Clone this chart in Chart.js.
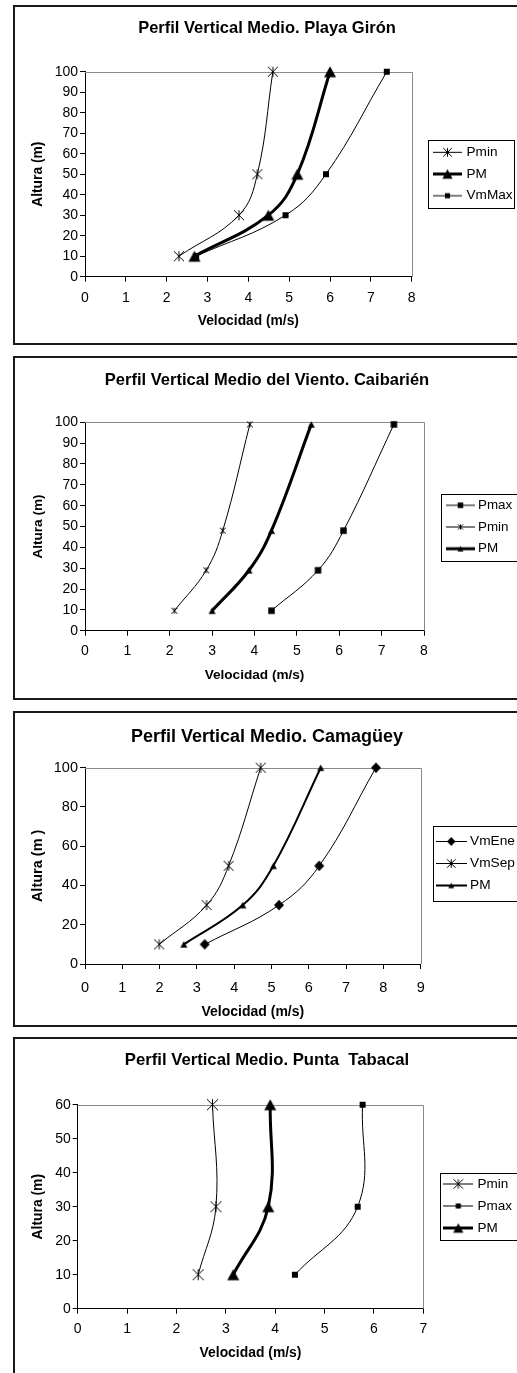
<!DOCTYPE html>
<html lang="es">
<head>
<meta charset="utf-8">
<title>Perfil Vertical Medio</title>
<script src="https://cdn.jsdelivr.net/npm/chart.js@4.4.1/dist/chart.umd.min.js"></script>
<style>
  html, body { margin:0; padding:0; background:#fff; }
  body { width:517px; height:1373px; overflow:hidden; position:relative; }
  .box { position:absolute; left:13px; width:504px; border:2px solid #1a1a1a; background:#fff; }
  .box canvas { display:block; }
</style>
</head>
<body>
<div class="box" style="top:5px;height:336px;"><canvas id="c1" width="504" height="336"></canvas></div>
<div class="box" style="top:356px;height:340px;"><canvas id="c2" width="504" height="340"></canvas></div>
<div class="box" style="top:711px;height:312px;"><canvas id="c3" width="504" height="312"></canvas></div>
<div class="box" style="top:1037px;height:336px;"><canvas id="c4" width="504" height="336"></canvas></div>
<script>
const FONT = "'Liberation Sans', Arial, Helvetica, sans-serif";

// ---------- DATA ----------
const xTitle = 'Velocidad (m/s)';
const yTitle = 'Altura (m)';
const yTitle3 = 'Altura (m )';

// Chart 1 — Playa Girón
const title1 = 'Perfil Vertical Medio. Playa Girón';
const heights1 = [10, 30, 50, 100];
const pmin1 = [2.3, 3.77, 4.22, 4.6];
const pm1 = [2.68, 4.49, 5.2, 6.0];
const vmMax1 = [2.72, 4.91, 5.9, 7.39];
const xTicks1 = [0, 1, 2, 3, 4, 5, 6, 7, 8];
const yTicks1 = [0, 10, 20, 30, 40, 50, 60, 70, 80, 90, 100];

// Chart 2 — Caibarién
const title2 = 'Perfil Vertical Medio del Viento. Caibarién';
const heights2 = [9.6, 29, 48, 99];
const pmax2 = [4.4, 5.5, 6.1, 7.29];
const pmin2 = [2.11, 2.86, 3.25, 3.89];
const pm2 = [3.0, 3.87, 4.4, 5.34];
const xTicks2 = [0, 1, 2, 3, 4, 5, 6, 7, 8];
const yTicks2 = [0, 10, 20, 30, 40, 50, 60, 70, 80, 90, 100];

// Chart 3 — Camagüey
const title3 = 'Perfil Vertical Medio. Camagüey';
const heights3 = [10, 30, 50, 100];
const vmEne3 = [3.21, 5.2, 6.28, 7.8];
const vmSep3 = [1.99, 3.26, 3.85, 4.71];
const pm3 = [2.65, 4.23, 5.05, 6.32];
const xTicks3 = [0, 1, 2, 3, 4, 5, 6, 7, 8, 9];
const yTicks3 = [0, 20, 40, 60, 80, 100];

// Chart 4 — Punta Tabacal
const title4 = 'Perfil Vertical Medio. Punta  Tabacal';
const heights4 = [10, 30, 60];
const pmin4 = [2.44, 2.8, 2.73];
const pmax4 = [4.4, 5.67, 5.77];
const pm4 = [3.15, 3.86, 3.9];
const xTicks4 = [0, 1, 2, 3, 4, 5, 6, 7];
const yTicks4 = [0, 10, 20, 30, 40, 50, 60];

// ---------- MARKERS ----------
function drawMarker(ctx, kind, cx, cy, s) {
  const h = s / 2;
  ctx.fillStyle = '#000'; ctx.strokeStyle = '#000'; ctx.lineWidth = 1;
  if (kind === 'tri') {
    const hh = s * 0.92;
    ctx.beginPath();
    ctx.moveTo(cx, cy - hh / 2);
    ctx.lineTo(cx + h, cy + hh / 2);
    ctx.lineTo(cx - h, cy + hh / 2);
    ctx.closePath(); ctx.fill();
  } else if (kind === 'sq') {
    ctx.fillRect(cx - h, cy - h, s, s);
  } else if (kind === 'dia') {
    const hv = h * 1.07;
    ctx.beginPath();
    ctx.moveTo(cx, cy - hv); ctx.lineTo(cx + h, cy); ctx.lineTo(cx, cy + hv); ctx.lineTo(cx - h, cy);
    ctx.closePath(); ctx.fill();
  } else if (kind === 'ast') {
    ctx.beginPath();
    ctx.moveTo(cx - h, cy - h); ctx.lineTo(cx + h, cy + h);
    ctx.moveTo(cx + h, cy - h); ctx.lineTo(cx - h, cy + h);
    ctx.moveTo(cx, cy - h); ctx.lineTo(cx, cy + h);
    ctx.stroke();
  }
}
function markerCanvas(kind, s) {
  const n = Math.ceil(s) + 2;
  const c = document.createElement('canvas'); c.width = n; c.height = n;
  drawMarker(c.getContext('2d'), kind, n / 2, n / 2, s);
  return c;
}
function legendCanvas(kind, s, lw, w) {
  const hgt = Math.ceil(Math.max(s, lw)) + 4;
  const c = document.createElement('canvas'); c.width = Math.round(w); c.height = hgt;
  const ctx = c.getContext('2d');
  ctx.fillStyle = '#000';
  ctx.fillRect(0, hgt / 2 - lw / 2, c.width, lw);
  drawMarker(ctx, kind, c.width / 2, hgt / 2, s);
  return c;
}

// ---------- BUILDER ----------
function build(id, spec) {
  const g = spec.geo;
  const canvas = document.getElementById(id);
  const W = canvas.width, H = canvas.height;
  const ox = 15, oy = g.boxTop + 2;
  const L = g.plotL - ox, R = g.plotR - ox, T = g.plotT - oy, B = g.plotB - oy;
  const tLH = spec.titleSize * 1.2;
  const tcy = g.titleCY - oy;
  const axLH = spec.axisSize * 1.2;
  const yAx = spec.yAxisSize || spec.axisSize;
  const xtPadBottom = H - (g.xTitleCY - oy) - axLH / 2;
  const ytcx = g.yTitleCX - ox;
  const fs = spec.legendSize;
  const lpad = g.legendSpacing - fs;
  const symLeft = g.symLeft - ox, symW = g.symW, textX = g.textX - ox;
  const bw = 2 * (textX - symLeft - symW / 2 - fs / 2);
  const itemLeft = symLeft + symW / 2 - bw / 2;
  const tickLH = spec.tickSize * 1.2;
  const xTickPad = (g.xTickCY - g.plotB) - 5 - tickLH / 2;
  const state = { p: 0 };

  const datasets = spec.series.map(s => ({
    label: s.label,
    data: s.y.map((h, i) => ({ x: s.x[i], y: h })),
    showLine: true,
    borderColor: '#000', backgroundColor: '#000',
    borderWidth: s.lw,
    pointStyle: markerCanvas(s.marker, s.size),
    pointRadius: s.size / 2 + 1, pointHoverRadius: s.size / 2 + 1,
    tension: 0.4, clip: false, fill: false,
    legendImg: legendCanvas(s.marker, s.size * 0.85, s.lw, symW)
  }));

  const look = {
    id: 'excelLook',
    afterLayout(chart) {
      const lg = chart.legend; if (!lg) return;
      const w = lg.width;
      lg.left = itemLeft - lpad; lg.right = lg.left + w;
      const cy = g.legendCY - oy;
      lg.top = cy - 150; lg.bottom = cy + 150; lg.height = 300;
    },
    beforeDatasetsDraw(chart) {
      const a = chart.chartArea, ctx = chart.ctx;
      ctx.save();
      ctx.strokeStyle = '#8a8a8a'; ctx.lineWidth = 1;
      const t = Math.round(a.top) + 0.5, r = Math.round(a.right) + 0.5;
      ctx.beginPath();
      ctx.moveTo(a.left, t); ctx.lineTo(r, t); ctx.lineTo(r, a.bottom);
      ctx.stroke();
      ctx.restore();
    },
    afterDraw(chart) {
      const ctx = chart.ctx;
      ctx.save();
      ctx.strokeStyle = '#000'; ctx.lineWidth = 1;
      const x0 = Math.round(g.lbL - ox) + 0.5, y0 = Math.round(g.lbT - oy) + 0.5;
      const x1 = Math.round(g.lbR - ox) + 0.5, y1 = Math.round(g.lbB - oy) + 0.5;
      ctx.strokeRect(x0, y0, x1 - x0, y1 - y0);
      ctx.restore();
    }
  };

  const axisCommon = {
    grid: { display: true, drawOnChartArea: false, drawTicks: true, tickLength: 5, color: '#000', lineWidth: 1 },
    border: { display: true, color: '#000', width: 1 }
  };

  const cfg = {
    type: 'scatter',
    data: { datasets },
    options: {
      responsive: false, animation: false, events: [],
      layout: { padding: { left: 0, right: 0, top: 0, bottom: 0 }, autoPadding: false },
      plugins: {
        title: {
          display: true, text: spec.title, color: '#000',
          font: { family: FONT, size: spec.titleSize, weight: 'bold', lineHeight: 1.2 },
          padding: { top: tcy - tLH / 2, bottom: T - tcy - tLH / 2 }
        },
        legend: {
          position: 'right', align: 'center', maxWidth: W - R,
          labels: {
            usePointStyle: true, pointStyleWidth: bw, padding: lpad, color: '#000',
            font: { family: FONT, size: fs },
            generateLabels: chart => chart.data.datasets.map((ds, i) => ({
              text: ds.label, pointStyle: ds.legendImg, fillStyle: '#000', strokeStyle: '#000',
              lineWidth: 0, hidden: false, datasetIndex: i, fontColor: '#000'
            }))
          }
        },
        tooltip: { enabled: false }
      },
      scales: {
        x: Object.assign({}, axisCommon, {
          type: 'linear', position: 'bottom',
          min: spec.xTicks[0], max: spec.xTicks[spec.xTicks.length - 1],
          afterBuildTicks: sc => { sc.ticks = spec.xTicks.map(v => ({ value: v })); },
          afterFit: sc => { sc.height = H - B; },
          ticks: { color: '#000', font: { family: FONT, size: spec.tickSize }, padding: xTickPad, maxRotation: 0, autoSkip: false },
          title: { display: true, text: spec.xTitle, color: '#000',
            font: { family: FONT, size: spec.axisSize, weight: 'bold', lineHeight: 1.2 },
            padding: { top: 0, bottom: xtPadBottom } }
        }),
        y: Object.assign({}, axisCommon, {
          type: 'linear', position: 'left',
          min: spec.yTicks[0], max: spec.yTicks[spec.yTicks.length - 1],
          afterBuildTicks: sc => { sc.ticks = spec.yTicks.map(v => ({ value: v })); },
          afterFit: sc => { sc.width = L - state.p; },
          ticks: { color: '#000', font: { family: FONT, size: spec.tickSize }, padding: 2, autoSkip: false },
          title: { display: true, text: spec.yTitle, color: '#000',
            font: { family: FONT, size: yAx, weight: 'bold', lineHeight: 1.2 },
            padding: { top: ytcx - yAx * 0.6, bottom: 0 } }
        })
      }
    },
    plugins: [look]
  };

  const chart = new Chart(canvas, cfg);
  const lw = chart.legend.width;
  const p = Math.max(0, (W - R) - lw);
  state.p = p;
  chart.options.layout.padding = { left: p, right: p, top: 0, bottom: 0 };
  chart.options.scales.y.title.padding = { top: ytcx - p - yAx * 0.6, bottom: 0 };
  chart.update();
  return chart;
}

build('c1', {
  title: title1, xTitle: xTitle, yTitle: yTitle, xTicks: xTicks1, yTicks: yTicks1,
  titleSize: 16.5, axisSize: 13.8, tickSize: 14, legendSize: 13.6,
  geo: { boxTop: 5, plotL: 85, plotR: 411.7, plotT: 71.7, plotB: 276.7, titleCY: 28.3,
         xTitleCY: 321, yTitleCX: 38, xTickCY: 297.8, legendCY: 174, legendSpacing: 21.7,
         symLeft: 433, symW: 29, textX: 466.5, lbL: 428.3, lbT: 140, lbR: 514.3, lbB: 208 },
  series: [
    { label: 'Pmin', x: pmin1, y: heights1, lw: 1, marker: 'ast', size: 10 },
    { label: 'PM', x: pm1, y: heights1, lw: 3, marker: 'tri', size: 12 },
    { label: 'VmMax', x: vmMax1, y: heights1, lw: 1, marker: 'sq', size: 6 }
  ]
});

build('c2', {
  title: title2, xTitle: xTitle, yTitle: yTitle, xTicks: xTicks2, yTicks: yTicks2,
  titleSize: 16.5, axisSize: 13.6, tickSize: 14, legendSize: 13.4,
  geo: { boxTop: 356, plotL: 85, plotR: 424, plotT: 422.3, plotB: 630.7, titleCY: 380,
         xTitleCY: 675, yTitleCX: 38, xTickCY: 651.3, legendCY: 527, legendSpacing: 21.7,
         symLeft: 446, symW: 29, textX: 478, lbL: 441, lbT: 494, lbR: 530, lbB: 561 },
  series: [
    { label: 'Pmax', x: pmax2, y: heights2, lw: 1, marker: 'sq', size: 6.5 },
    { label: 'Pmin', x: pmin2, y: heights2, lw: 1, marker: 'ast', size: 6 },
    { label: 'PM', x: pm2, y: heights2, lw: 3, marker: 'tri', size: 7 }
  ]
});

build('c3', {
  title: title3, xTitle: xTitle, yTitle: yTitle3, xTicks: xTicks3, yTicks: yTicks3,
  titleSize: 18, axisSize: 14, yAxisSize: 14.5, tickSize: 14.5, legendSize: 13.7,
  geo: { boxTop: 711, plotL: 85, plotR: 420.7, plotT: 767.7, plotB: 964, titleCY: 736.7,
         xTitleCY: 1011.7, yTitleCX: 37.7, xTickCY: 988, legendCY: 863.5, legendSpacing: 22,
         symLeft: 436, symW: 30.5, textX: 470, lbL: 432.5, lbT: 825.5, lbR: 530, lbB: 900.5 },
  series: [
    { label: 'VmEne', x: vmEne3, y: heights3, lw: 1, marker: 'dia', size: 10 },
    { label: 'VmSep', x: vmSep3, y: heights3, lw: 1, marker: 'ast', size: 10 },
    { label: 'PM', x: pm3, y: heights3, lw: 2, marker: 'tri', size: 7 }
  ]
});

build('c4', {
  title: title4, xTitle: xTitle, yTitle: yTitle, xTicks: xTicks4, yTicks: yTicks4,
  titleSize: 16.7, axisSize: 13.9, tickSize: 14, legendSize: 13.5,
  geo: { boxTop: 1037, plotL: 77.7, plotR: 423.3, plotT: 1104.7, plotB: 1308.7, titleCY: 1060.7,
         xTitleCY: 1353.3, yTitleCX: 38.3, xTickCY: 1328.8, legendCY: 1206, legendSpacing: 22,
         symLeft: 443.3, symW: 30, textX: 477.5, lbL: 440, lbT: 1173, lbR: 530, lbB: 1240 },
  series: [
    { label: 'Pmin', x: pmin4, y: heights4, lw: 1, marker: 'ast', size: 11 },
    { label: 'Pmax', x: pmax4, y: heights4, lw: 1, marker: 'sq', size: 6 },
    { label: 'PM', x: pm4, y: heights4, lw: 3, marker: 'tri', size: 12 }
  ]
});
</script>
</body>
</html>
